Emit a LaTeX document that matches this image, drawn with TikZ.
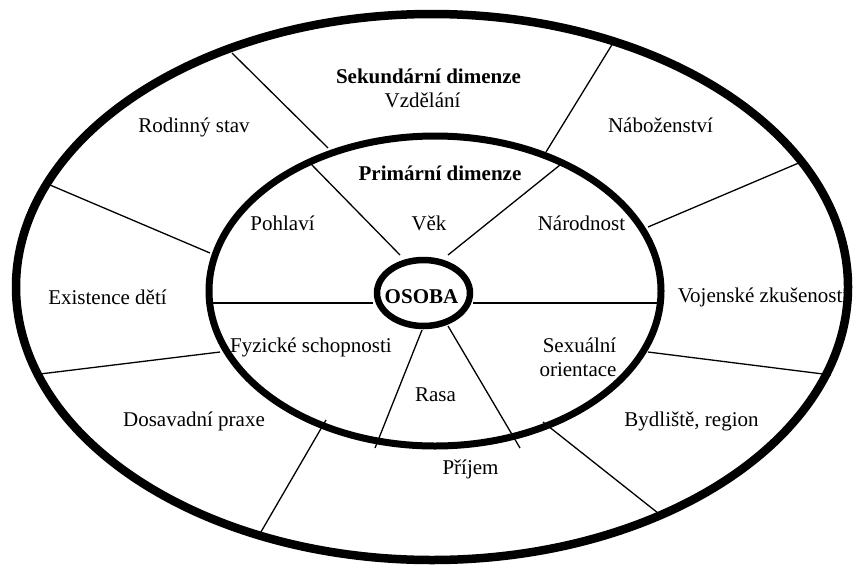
\documentclass[tikz,border=0pt]{standalone}
\usepackage{fontspec}
\setmainfont{Liberation Serif}
\begin{document}
\begin{tikzpicture}[x=1pt,y=-1pt,
  thin line/.style={line width=1.3pt},
  lbl/.style={anchor=base, inner sep=0pt, font=\fontsize{21}{24}\selectfont},
  blbl/.style={lbl, font=\fontsize{21}{24}\selectfont\bfseries}]
\useasboundingbox (0,0) rectangle (853,568);
% outer ring separators
\coordinate (a1) at (232,53);  \coordinate (a2) at (328,148);
\coordinate (b1) at (50,185);  \coordinate (b2) at (210,253);
\coordinate (c1) at (40,374);  \coordinate (c2) at (220,352);
\coordinate (d1) at (258,537); \coordinate (d2) at (326,420);
\coordinate (e1) at (543,422); \coordinate (e2) at (663,517);
\coordinate (f1) at (648,352); \coordinate (f2) at (831,375);
\coordinate (g1) at (648,227); \coordinate (g2) at (801,162);
\coordinate (h1) at (613,43);  \coordinate (h2) at (546,152);
% inner ring separators
\coordinate (i1) at (310,163); \coordinate (i2) at (400,255);
\coordinate (j1) at (560,165); \coordinate (j2) at (448,255);
\coordinate (k1) at (212,303); \coordinate (k2) at (373,303);
\coordinate (l1) at (473,303); \coordinate (l2) at (660,303);
\coordinate (m1) at (422,330); \coordinate (m2) at (375,448);
\coordinate (n1) at (448,326); \coordinate (n2) at (520,448);
\foreach \p in {a,b,c,d,e,f,g,h,i,j,k,l,m,n}
  \draw[thin line] (\p1) -- (\p2);
% ellipses
\draw[line width=8.5pt] (432,287) ellipse [x radius=416, y radius=273];
\draw[line width=7pt] (435,291) ellipse [x radius=226, y radius=155];
\draw[line width=6.5pt] (423.5,293) ellipse [x radius=46.5, y radius=33];
% labels
\node[blbl] (sek) at (428.5,83) {Sekundární dimenze};
\node[lbl] (vzd) at (422.5,107) {Vzdělání};
\node[blbl] (pri) at (440,180) {Primární dimenze};
\node[lbl] (rod) at (194,132) {Rodinný stav};
\node[lbl] (nab) at (660.5,132) {Náboženství};
\node[lbl] (poh) at (282.5,230) {Pohlaví};
\node[lbl] (vek) at (429,230) {Věk};
\node[lbl] (nar) at (581.5,230) {Národnost};
\node[lbl] (exi) at (107.5,304) {Existence dětí};
\node[blbl] (oso) at (421.5,303) {OSOBA};
\node[lbl] (voj) at (763,302) {Vojenské zkušenosti};
\node[lbl] (fyz) at (311,352) {Fyzické schopnosti};
\node[lbl] (sex) at (579.5,352) {Sexuální};
\node[lbl] (ori) at (578,376) {orientace};
\node[lbl] (ras) at (435.5,401) {Rasa};
\node[lbl] (dos) at (194,426) {Dosavadní praxe};
\node[lbl] (byd) at (691.5,426) {Bydliště, region};
\node[lbl] (pri2) at (470.5,474) {Příjem};
\end{tikzpicture}
\end{document}
